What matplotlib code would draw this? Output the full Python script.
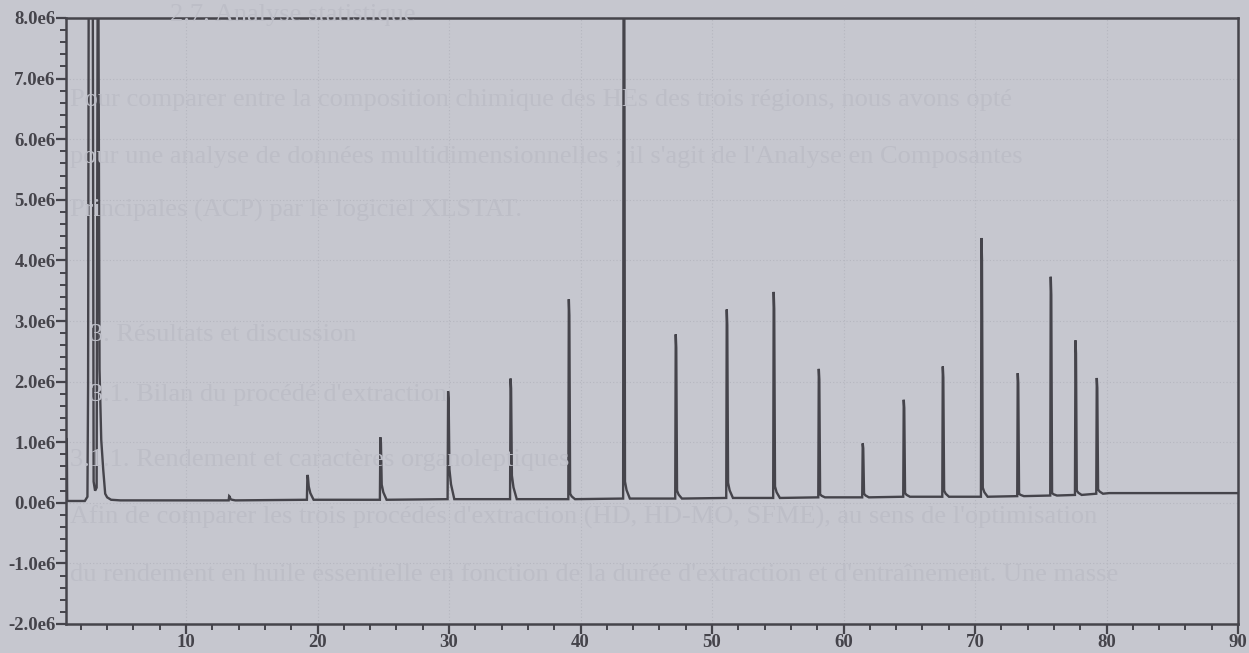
import matplotlib
matplotlib.use("Agg")
import matplotlib.pyplot as plt
from matplotlib.ticker import MultipleLocator, FuncFormatter

# ---------------- data ----------------
# early solvent / first-eluting cluster, explicit trace vertices (min, abundance)
early_t = [0.87, 0.93, 0.96, 1.2, 2.3, 2.5, 2.55, 2.62, 2.75, 2.88, 2.97, 3.08, 3.2, 3.3, 3.42, 3.55, 3.7, 3.85, 4.0, 4.3, 5.0]
early_v = [1.05e6, 1.05e6, 0.03e6, 0.03e6, 0.03e6, 0.10e6, 1.95e6, 1.2e7, 1.4e7, 1.2e7, 0.35e6, 0.20e6, 0.25e6, 1.1e7, 2.2e6, 1.04e6, 0.55e6, 0.15e6, 0.09e6, 0.05e6, 0.04e6]

# later peaks: retention time, apex height, right-shoulder level, local baseline
peak_rt = [13.3, 19.25, 24.8, 29.95, 34.7, 39.13, 43.3, 47.26, 51.14, 54.71,
           58.14, 61.48, 64.6, 67.57, 70.51, 73.27, 75.78, 77.66, 79.28]
peak_height = [0.11e6, 0.46e6, 1.08e6, 1.84e6, 2.05e6, 3.36e6, 1.1e7, 2.78e6, 3.19e6, 3.48e6,
               2.21e6, 0.98e6, 1.70e6, 2.25e6, 4.37e6, 2.14e6, 3.73e6, 2.68e6, 2.06e6]
peak_shoulder = [0.06e6, 0.27e6, 0.30e6, 0.55e6, 0.45e6, 0.15e6, 0.35e6, 0.20e6, 0.33e6, 0.27e6,
                 0.14e6, 0.15e6, 0.16e6, 0.20e6, 0.25e6, 0.15e6, 0.16e6, 0.20e6, 0.22e6]
peak_base = [0.04e6, 0.05e6, 0.05e6, 0.06e6, 0.06e6, 0.06e6, 0.07e6, 0.07e6, 0.08e6, 0.08e6,
             0.09e6, 0.09e6, 0.10e6, 0.10e6, 0.10e6, 0.11e6, 0.12e6, 0.13e6, 0.15e6]
end_t = [80.2, 90.0]
end_v = [0.16e6, 0.16e6]

y_ticks = [-2e6, -1e6, 0, 1e6, 2e6, 3e6, 4e6, 5e6, 6e6, 7e6, 8e6]
x_ticks = [10, 20, 30, 40, 50, 60, 70, 80, 90]

bleed_lines = [
    "2.7. Analyse statistique",
    "Pour comparer entre la composition chimique des HEs des trois régions, nous avons opté",
    "pour une analyse de données multidimensionnelles ; il s'agit de l'Analyse en Composantes",
    "Principales (ACP) par le logiciel XLSTAT.",
    "3. Résultats et discussion",
    "3.1. Bilan du procédé d'extraction",
    "3.1.1. Rendement et caractères organoleptiques",
    "Afin de comparer les trois procédés d'extraction (HD, HD-MO, SFME), au sens de l'optimisation",
    "du rendement en huile essentielle en fonction de la durée d'extraction et d'entraînement. Une masse",
]

# ---------------- build trace from the peak table ----------------
t = list(early_t)
v = list(early_v)
for rt, h, sh, b in zip(peak_rt, peak_height, peak_shoulder, peak_base):
    t += [rt - 0.06, rt - 0.02, rt + 0.02, rt + 0.08, rt + 0.2, rt + 0.45]
    v += [b, h, h * 0.92, sh, (sh + b) / 2, b]
t += end_t
v += end_v

# ---------------- style ----------------
bg = "#c6c7cf"
ink = "#45444b"
plt.rcParams["font.family"] = ["Liberation Serif", "DejaVu Serif"]

fig = plt.figure(figsize=(12.49, 6.53), dpi=100, facecolor=bg)

# faint show-through text from the back of the scanned page
line_y = [15, 100, 157, 210, 335, 395, 460, 517, 575]
line_x = [170, 70, 70, 70, 90, 90, 70, 70, 70]
for s, yy, xx in zip(bleed_lines, line_y, line_x):
    fig.text(xx / 1249, 1 - yy / 653, s, fontsize=19, color="#bdbec7",
             va="center", ha="left", zorder=0)

ax = fig.add_axes([66 / 1249, 1 - 624 / 653, (1238 - 66) / 1249, (624 - 18) / 653])
ax.set_facecolor("none")
ax.plot(t, v, color=ink, lw=1.7, solid_joinstyle="miter", zorder=3)

ax.set_xlim(0.87, 90)
ax.set_ylim(-2e6, 8e6)
ax.set_xticks(x_ticks)
ax.set_yticks(y_ticks)
ax.xaxis.set_minor_locator(MultipleLocator(2))
ax.yaxis.set_minor_locator(MultipleLocator(0.2e6))
ax.yaxis.set_major_formatter(FuncFormatter(lambda val, pos: f"{val/1e6:.1f}e6"))

ax.tick_params(axis="both", which="major", length=7, width=1.6, color=ink,
               labelcolor=ink, labelsize=13.5, direction="out", pad=0.5)
ax.tick_params(axis="both", which="minor", length=4.5, width=1.4, color=ink, direction="out")
ax.tick_params(top=False, right=False)
for lab in ax.get_xticklabels() + ax.get_yticklabels():
    lab.set_fontweight("bold")

for sp in ax.spines.values():
    sp.set_color(ink)
    sp.set_linewidth(1.8)

ax.grid(True, which="major", color="#b6b7c0", lw=0.8, ls=(0, (1, 2)), zorder=1)

fig.savefig("out.png", dpi=100, facecolor=bg)
